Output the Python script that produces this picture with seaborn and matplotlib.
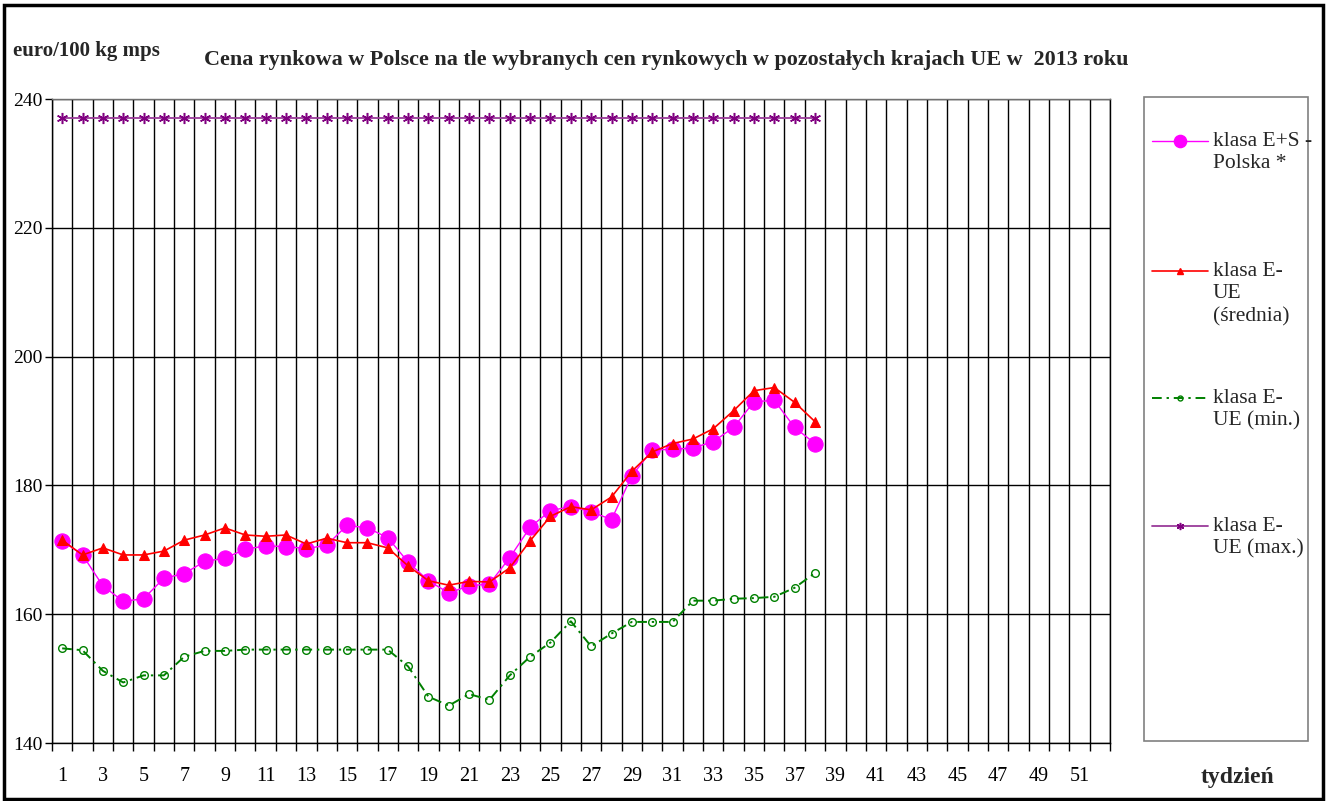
import numpy as np
import matplotlib
matplotlib.use("Agg")
import matplotlib.pyplot as plt
import seaborn as sns
from matplotlib.lines import Line2D
from matplotlib.patches import Rectangle

# ---------------- data ----------------
weeks = list(range(1, 39))
polska = [171.4, 169.2, 164.4, 162.0, 162.4, 165.6, 166.3, 168.2, 168.7, 170.1,
          170.6, 170.5, 170.2, 170.7, 173.8, 173.4, 171.9, 168.1, 165.2, 163.3,
          164.4, 164.7, 168.8, 173.5, 176.1, 176.7, 175.9, 174.7, 181.5, 185.5,
          185.6, 185.8, 186.8, 189.0, 193.0, 193.2, 189.0, 186.5]
ue_srednia = [171.5, 169.2, 170.3, 169.2, 169.2, 169.8, 171.5, 172.3, 173.4, 172.3,
              172.1, 172.3, 170.9, 171.8, 171.1, 171.1, 170.3, 167.5, 165.2, 164.5,
              165.1, 165.0, 167.2, 171.4, 175.2, 176.7, 176.2, 178.2, 182.2, 185.2,
              186.5, 187.2, 188.8, 191.6, 194.7, 195.2, 192.9, 189.9]
ue_min = [154.7, 154.4, 151.2, 149.4, 150.5, 150.5, 153.4, 154.3, 154.3, 154.5,
          154.5, 154.5, 154.5, 154.5, 154.5, 154.5, 154.5, 151.9, 147.2, 145.8,
          147.6, 146.7, 150.5, 153.4, 155.6, 158.9, 155.0, 157.0, 158.8, 158.8,
          158.8, 162.1, 162.1, 162.4, 162.5, 162.7, 164.1, 166.4]
ue_max = [237.1] * 38

series_labels = ["klasa E+S -\nPolska *", "klasa E-\nUE\n(średnia)",
                 "klasa E-\nUE (min.)", "klasa E-\nUE (max.)"]
x_tick_labels = [str(w) for w in range(1, 52, 2)]
y_ticks = [140, 160, 180, 200, 220, 240]

# ---------------- style ----------------
sns.set_style("white")
plt.rcParams['font.family'] = ['Liberation Serif', 'DejaVu Serif']

W, H = 1329, 801
fig = plt.figure(figsize=(W / 100, H / 100), dpi=100)
ax = fig.add_axes([52 / W, 1 - 743 / H, (1110 - 52) / W, (743 - 99) / H])

MAG, RED, GRN, PUR = "#FF00FF", "#FF0000", "#008000", "#800080"
ast = (6, 2, 0)
green_ls = (0, (5, 2.5, 1.2, 2.5))

styles = [
    dict(color=MAG, lw=1.0, marker="o", markersize=11, markeredgecolor=MAG, markerfacecolor=MAG),
    dict(color=RED, lw=1.2, marker="^", markersize=7.5, markeredgecolor=RED, markerfacecolor=RED),
    dict(color=GRN, lw=1.4, marker="o", markersize=5.5, markeredgecolor=GRN, markerfacecolor="none",
         markeredgewidth=1.0),
    dict(color="#9A3A9A", lw=1.3, marker=ast, markersize=8, markeredgecolor=PUR, markeredgewidth=1.1),
]

for vals, st in zip([polska, ue_srednia, ue_min, ue_max], styles):
    sns.lineplot(x=weeks, y=vals, ax=ax, legend=False, **st)
ax.lines[2].set_linestyle(green_ls)

ax.set_xlim(0.5, 52.5)
ax.set_ylim(140, 240)

# ticks
ax.set_xticks(range(1, 52, 2))
ax.set_xticklabels(x_tick_labels)
ax.set_xticks(np.arange(0.5, 53, 1), minor=True)
ax.set_yticks(y_ticks)
ax.set_yticklabels([str(v) for v in y_ticks])
ax.tick_params(axis="x", which="major", length=0, pad=17, labelsize=14.5, colors="black")
ax.tick_params(axis="x", which="minor", length=6, width=1, direction="out", colors="black", bottom=True)
ax.tick_params(axis="y", which="major", length=5, width=1, direction="out", pad=2, labelsize=14,
               colors="black", left=True)
ax.grid(False)
ax.grid(True, which="minor", axis="x", color="black", lw=1.0)
ax.grid(True, which="major", axis="y", color="black", lw=1.0)
ax.set_axisbelow(True)
for s in ax.spines.values():
    s.set_visible(True)
    s.set_color("black")
    s.set_linewidth(1.0)
ax.spines["top"].set_color("#707070")
ax.set_xlabel("")
ax.set_ylabel("")

# texts
fig.text(13 / W, 1 - 51 / H, "euro/100 kg mps", fontsize=15, fontweight="bold", ha="left", va="center")
fig.text(666 / W, 1 - 60 / H,
         "Cena rynkowa w Polsce na tle wybranych cen rynkowych w pozostałych krajach UE w  2013 roku",
         fontsize=15.9, fontweight="bold", ha="center", va="center")
fig.text(1238 / W, 1 - 778 / H, "tydzień", fontsize=17, fontweight="bold", ha="center", va="center")

# legend (manual, Excel-like)
fig.patches.append(Rectangle((1144 / W, 1 - 741 / H), (1308 - 1144) / W, (741 - 97) / H,
                             transform=fig.transFigure, fill=False, edgecolor="#808080", lw=1.2))
leg_y = [141, 271, 398, 526]
for st, lab, yy, i in zip(styles, series_labels, leg_y, range(4)):
    yf = 1 - yy / H
    ms = st["markersize"]
    mk = st["marker"]
    ln = Line2D([1152 / W, 1208 / W], [yf, yf], transform=fig.transFigure,
                color=st["color"], lw=st["lw"])
    if i == 2:
        ln.set_linestyle(green_ls)
    fig.lines.append(ln)
    mkw = {k: v for k, v in st.items() if k.startswith("marker") and k not in ("marker", "markersize")}
    m = Line2D([1180 / W], [yf], transform=fig.transFigure, linestyle="none", marker=mk,
               markersize=ms * (0.8 if i == 0 else 0.65), **mkw)
    fig.lines.append(m)
    fig.text(1213 / W, yf + 9 / H, lab, fontsize=15.5, ha="left", va="top", linespacing=1.25)

# outer frame
fig.patches.append(Rectangle((4 / W, 2 / H), (1323 - 4) / W, (796 - 2) / H,
                             transform=fig.transFigure, fill=False, edgecolor="black", lw=2.5))

fig.savefig("out.png", dpi=100)
